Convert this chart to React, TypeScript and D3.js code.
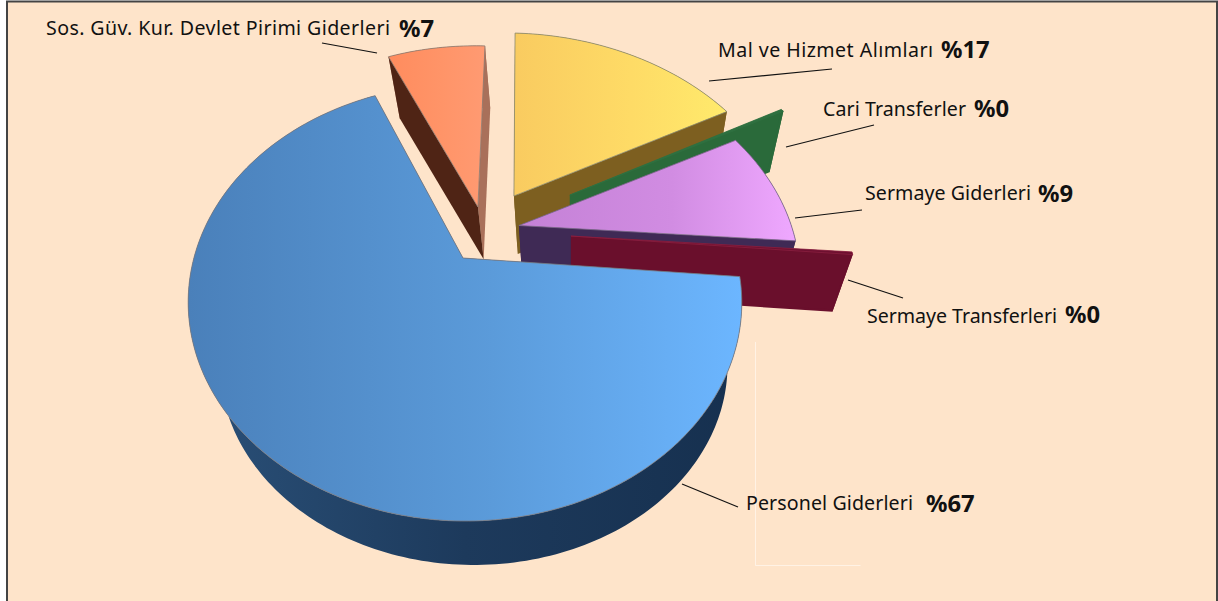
import * as d3 from "d3";

const LABELS = ["Personel Giderleri", "Sos. Güv. Kur. Devlet Pirimi Giderleri", "Mal ve Hizmet Alımları", "Cari Transferler", "Sermaye Giderleri", "Sermaye Transferleri"];
const SHARES = [67.2, 7.1, 16.5, 0.2, 8.8, 0.2];
const PERCENTS = ["%67", "%7", "%17", "%0", "%9", "%0"];

// explode offset of each slice on the pie plane, and slice radius
const OFFSET_X = [0, 0.058, 0.2, 0.42, 0.213, 0.407];
const OFFSET_Y = [0, 0.256, 0.315, 0.32, 0.16, 0.107];
const RADIUS = [1, 1.02, 1.06, 1.08, 1.03, 1.04];
const DEPTH = [0.083, 0.062, 0.068, 0.065, 0.068, 0.072];
const RIM_SHIFT = [0.007, 0, 0, 0, 0.008, 0];

const TOP_STOPS = [
  ["#4a80ba", "#5b9bda", "#6cb6ff"],
  ["#ff8c5e", "#ff9468", "#ff9a72"],
  ["#f9cb60", "#fedb66", "#ffea6c"],
  ["#2f7040", "#2f7040", "#2f7040"],
  ["#c481d6", "#d18ce2", "#efa8ff"],
  ["#6e1030", "#6e1030", "#6e1030"],
];
const TOP_STROKE = ["#7a7a80", "#8a7a70", "#8a8a70", "#2f7040", "#7a6a88", "#8a2040"];
const RIM_COLORS = ["#1b3657", "#a9705a", "#7d5f20", "#2a6a3a", "#3f2a55", "#6a0f2c"];
const LEFT_WALL = ["#1b3657", "#4f2415", "#7d5f20", "#2a6a3a", "#3f2a55", "#6a0f2c"];
const RIGHT_WALL = ["#1b3657", "#a9705a", "#7d5f20", "#2a6a3a", "#3f2a55", "#6a0f2c"];
const DRAW_ORDER = [1, 2, 3, 4, 5, 0];

// leader lines [x1, y1, x2, y2], same order as LABELS
const LEADERS = [
  [682, 484, 738, 507],
  [322, 43, 377, 53],
  [709, 81, 832, 69],
  [786, 147, 874, 125],
  [795, 218, 862, 210],
  [848, 280, 903, 298],
];
const LABEL_POS = [
  [746, 510, 926, 512],
  [46, 35, 399, 37],
  [718, 57, 941, 58],
  [823, 116, 974, 117],
  [865, 200, 1038, 202],
  [867, 323, 1065, 323],
];
const LABEL_WIDTH = [167, 344, 215, 143, 166, 190];

const W = 1218, H = 601;
const PERSPECTIVE = 0.2036;
const VANISH = [570, 1050];

const px = d3.scaleLinear().domain([-1, 1]).range([463 - 271, 463 + 271]);
const py = d3.scaleLinear().domain([-1, 1]).range([258 + 209.5, 258 - 209.5]);

function project(x: number, y: number): [number, number] {
  const w = 1 + PERSPECTIVE * y;
  return [px(x / w), py(y / w)];
}
function drop(p: [number, number], t: number): [number, number] {
  return [p[0] + t * (VANISH[0] - p[0]), p[1] + t * (VANISH[1] - p[1])];
}

const pie = d3.pie<number>().sort(null).startAngle((95 * Math.PI) / 180).endAngle((455 * Math.PI) / 180);
const line = d3.line();

function sliceFaces(a0: number, a1: number, i: number) {
  const steps = Math.max(2, Math.ceil((a1 - a0) / 0.02));
  const rim = d3.range(steps + 1).map((k) => {
    const a = a0 + ((a1 - a0) * k) / steps;
    return project(OFFSET_X[i] + RIM_SHIFT[i] + RADIUS[i] * Math.sin(a), OFFSET_Y[i] + RADIUS[i] * Math.cos(a));
  });
  const apex = project(OFFSET_X[i], OFFSET_Y[i]);
  const t = DEPTH[i];
  const rimLow = rim.map((p) => drop(p, t));
  const apexLow = drop(apex, t);
  return {
    top: line([apex, ...rim])! + "Z",
    rim: line([...rim, ...rimLow.slice().reverse()])! + "Z",
    start: line([apex, rim[0], rimLow[0], apexLow])! + "Z",
    end: line([apex, rim[steps], rimLow[steps], apexLow])! + "Z",
  };
}

export default function App() {
  const arcs = pie(SHARES);
  const font = "'Noto Sans', sans-serif";
  return (
    <svg width={W} height={H} style={{ position: "absolute", left: 0, top: 0 }}>
      <defs>
        {TOP_STOPS.map((s, i) => (
          <linearGradient key={i} id={`top${i}`} x1="0" x2="1" y1="0" y2="0">
            <stop offset="0" stopColor={s[0]} />
            <stop offset="0.55" stopColor={s[1]} />
            <stop offset="1" stopColor={s[2]} />
          </linearGradient>
        ))}
        <linearGradient id="rim0" x1="0" x2="1" y1="0" y2="0">
          <stop offset="0" stopColor="#2a5078" />
          <stop offset="0.5" stopColor="#1d3a5c" />
          <stop offset="1" stopColor="#16304f" />
        </linearGradient>
      </defs>
      <rect x={0} y={0} width={W} height={H} fill="#fff" />
      <rect x={7} y={1.5} width={W - 8} height={H} fill="#fee4ca" />
      <path d={`M7 ${H}V1.5H${W - 1}V${H}`} fill="none" stroke="#444" strokeWidth={2} />
      <path d="M755.5 342V565.5H860.5" fill="none" stroke="#fff" strokeOpacity={0.5} />

      {DRAW_ORDER.map((i) => {
        const f = sliceFaces(arcs[i].startAngle, arcs[i].endAngle, i);
        return (
          <g key={i}>
            <path d={f.rim} fill={i === 0 ? "url(#rim0)" : RIM_COLORS[i]} />
            <path d={f.end} fill={RIGHT_WALL[i]} />
            <path d={f.start} fill={LEFT_WALL[i]} />
            <path d={f.top} fill={`url(#top${i})`} stroke={TOP_STROKE[i]} strokeWidth={0.8} strokeLinejoin="round" />
          </g>
        );
      })}

      {LEADERS.map((l, i) => (
        <line key={i} x1={l[0]} y1={l[1]} x2={l[2]} y2={l[3]} stroke="#111" strokeWidth={1.2} />
      ))}
      {LABELS.map((label, i) => (
        <g key={label} fontFamily={font} fill="#111">
          <text x={LABEL_POS[i][0]} y={LABEL_POS[i][1]} fontSize={19.6} textLength={LABEL_WIDTH[i]} lengthAdjust="spacing">{label}</text>
          <text x={LABEL_POS[i][2]} y={LABEL_POS[i][3]} fontSize={23.8} fontWeight={700}>{PERCENTS[i]}</text>
        </g>
      ))}
    </svg>
  );
}
